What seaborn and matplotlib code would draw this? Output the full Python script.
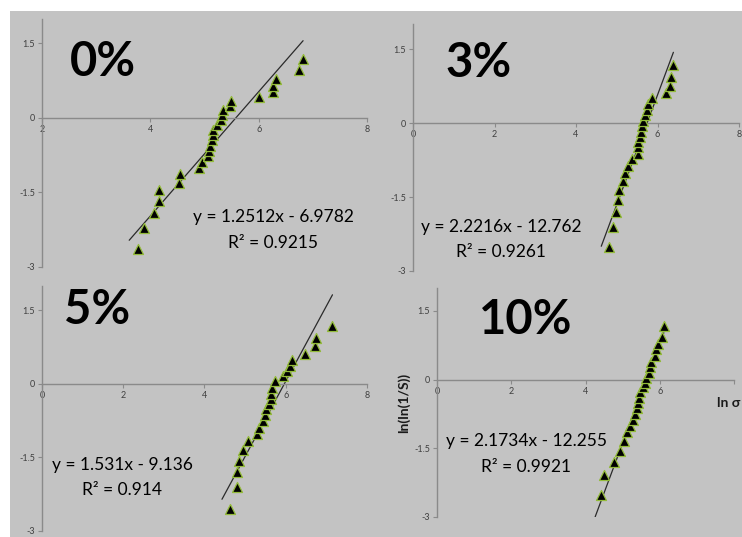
import numpy as np
import pandas as pd
import matplotlib
matplotlib.use("Agg")
import matplotlib.pyplot as plt
from matplotlib.patches import Rectangle
import seaborn as sns

sns.set_style("white")
plt.rcParams['font.family'] = ['Lato', 'DejaVu Sans']

# ---- data ----
labels = ["0%", "3%", "5%", "10%"]

x0 = [3.78, 3.88, 4.07, 4.16, 4.16, 4.53, 4.55, 4.90, 4.95, 5.07, 5.09, 5.11, 5.13, 5.15,
      5.16, 5.23, 5.30, 5.32, 5.35, 5.47, 5.48, 6.01, 6.26, 6.27, 6.32, 6.74, 6.82]
y0 = [-2.64, -2.22, -1.92, -1.68, -1.46, -1.30, -1.13, -1.01, -0.88, -0.76, -0.66, -0.56,
      -0.44, -0.34, -0.24, -0.14, -0.04, 0.06, 0.16, 0.24, 0.35, 0.43, 0.53, 0.64, 0.79,
      0.97, 1.19]

x3 = [4.81, 4.92, 4.98, 5.03, 5.06, 5.15, 5.20, 5.28, 5.38, 5.51, 5.51, 5.53, 5.56, 5.59,
      5.63, 5.65, 5.69, 5.74, 5.77, 5.87, 6.20, 6.31, 6.34, 6.39]
y3 = [-2.52, -2.10, -1.80, -1.56, -1.36, -1.18, -1.02, -0.87, -0.73, -0.62, -0.48, -0.38,
      -0.28, -0.18, -0.07, 0.05, 0.16, 0.26, 0.38, 0.50, 0.61, 0.75, 0.93, 1.18]

x5 = [4.63, 4.79, 4.81, 4.86, 4.96, 5.06, 5.29, 5.33, 5.45, 5.48, 5.51, 5.60, 5.63, 5.63,
      5.66, 5.74, 5.94, 6.04, 6.11, 6.15, 6.48, 6.71, 6.74, 7.15]
y5 = [-2.55, -2.11, -1.80, -1.57, -1.35, -1.17, -1.02, -0.90, -0.75, -0.64, -0.52, -0.42,
      -0.32, -0.20, -0.09, 0.05, 0.15, 0.26, 0.36, 0.49, 0.60, 0.76, 0.93, 1.18]

x10 = [4.42, 4.51, 4.78, 4.94, 5.05, 5.11, 5.21, 5.29, 5.32, 5.38, 5.41, 5.45, 5.48, 5.54,
       5.59, 5.63, 5.72, 5.75, 5.77, 5.88, 5.90, 5.95, 6.06, 6.11]
y10 = [-2.53, -2.09, -1.80, -1.55, -1.33, -1.15, -1.01, -0.88, -0.75, -0.61, -0.50, -0.39,
       -0.28, -0.17, -0.07, 0.04, 0.15, 0.28, 0.38, 0.51, 0.66, 0.78, 0.93, 1.17]

slopes = [1.2512, 2.2216, 1.531, 2.1734]
intercepts = [-6.9782, -12.762, -9.136, -12.255]
r2 = ["0.9215", "0.9261", "0.914", "0.9921"]
trend_start = [3.61, 4.62, 4.43, 4.26]
xlims = [(2, 8), (0, 8), (0, 8), (0, 8)]
x_ticks = [2, 4, 6, 8]
x_ticks_b = [0, 2, 4, 6, 8]
y_ticks = [-3, -1.5, 0, 1.5]
y_tick_labels = ["-3", "-1.5", "0", "1.5"]

xs = [x0, x3, x5, x10]
ys = [y0, y3, y5, y10]

W, H = 742, 537
fig = plt.figure(figsize=(W / 100, H / 100), dpi=100)
fig.patch.set_facecolor("white")
fig.add_artist(Rectangle((10 / W, 0), 1 - 10 / W, 1 - 11 / H, transform=fig.transFigure,
                         facecolor="#c3c3c3", edgecolor="none", zorder=-5))

# axes boxes in pixels: left, right, top(y=2), bottom(y=-3)
boxes = [(42, 367, 18.6, 267), (413, 739, 24.4, 271), (42, 367, 285.5, 531), (437, 734, 288.1, 517)]

txt_pos = [
    ((103, 62), (273, 217), (273, 243)),
    ((479, 63), (501, 227), (501, 252)),
    ((97, 310), (122, 465), (122, 490)),
    ((526, 320), (526, 441), (526, 467)),
]

axis_col = "#8a8a8a"
tick_col = "#404040"

for i in range(4):
    l, r, t, b = boxes[i]
    ax = fig.add_axes([l / W, 1 - b / H, (r - l) / W, (b - t) / H])
    ax.set_facecolor("none")
    df = pd.DataFrame({"x": xs[i], "y": ys[i]})
    xt = np.array([trend_start[i], max(xs[i])])
    yt = slopes[i] * xt + intercepts[i]
    ax.plot(xt, yt, color="#2a2a2a", lw=0.9, zorder=2)
    sns.scatterplot(data=df, x="x", y="y", ax=ax, marker="^", s=52, color="black",
                    edgecolor="#93bb3a", linewidth=0.9, zorder=3)
    ax.set_xlim(*xlims[i])
    ax.set_ylim(-3, 2)
    ax.set_xlabel("")
    ax.set_ylabel("")
    for s in ["top", "right"]:
        ax.spines[s].set_visible(False)
    ax.spines["bottom"].set_position(("data", 0))
    ax.spines["bottom"].set_color(axis_col)
    ax.spines["left"].set_color(axis_col)
    ax.spines["bottom"].set_linewidth(1.0)
    ax.spines["left"].set_linewidth(1.0)
    ax.set_yticks(y_ticks)
    ax.set_yticklabels(y_tick_labels)
    if i == 0:
        ax.set_xticks(x_ticks)
        ax.set_xticklabels([str(v) for v in x_ticks])
    else:
        ax.set_xticks(x_ticks_b)
        lab = [str(v) for v in x_ticks_b]
        if i == 3:
            lab[-1] = ""
        ax.set_xticklabels(lab)
    ax.tick_params(axis="both", direction="out", length=3, width=0.8, color=axis_col,
                   labelsize=6.5, labelcolor=tick_col, pad=2, left=True, bottom=True)

    (lx, ly), (ex, ey), (rx, ry) = txt_pos[i]
    fig.text(lx / W, 1 - ly / H, labels[i], ha="center", va="center", fontsize=34,
             fontweight="bold", color="black")
    sign = "-" if intercepts[i] < 0 else "+"
    fig.text(ex / W, 1 - ey / H, f"y = {slopes[i]}x {sign} {abs(intercepts[i])}",
             ha="center", va="center", fontsize=12.5, color="black")
    fig.text(rx / W, 1 - ry / H, f"R\u00b2 = {r2[i]}", ha="center", va="center",
             fontsize=12.5, color="black")

fig.text(404 / W, 1 - 403 / H, "ln(ln(1/S))", rotation=90, ha="center", va="center",
         fontsize=10, fontweight="bold", color="#1a1a1a")
fig.text(729 / W, 1 - 403 / H, "ln \u03c3", ha="center", va="center", fontsize=10,
         fontweight="bold", color="#1a1a1a", family=["Lato", "DejaVu Sans"])

fig.savefig("out.png", dpi=100)
